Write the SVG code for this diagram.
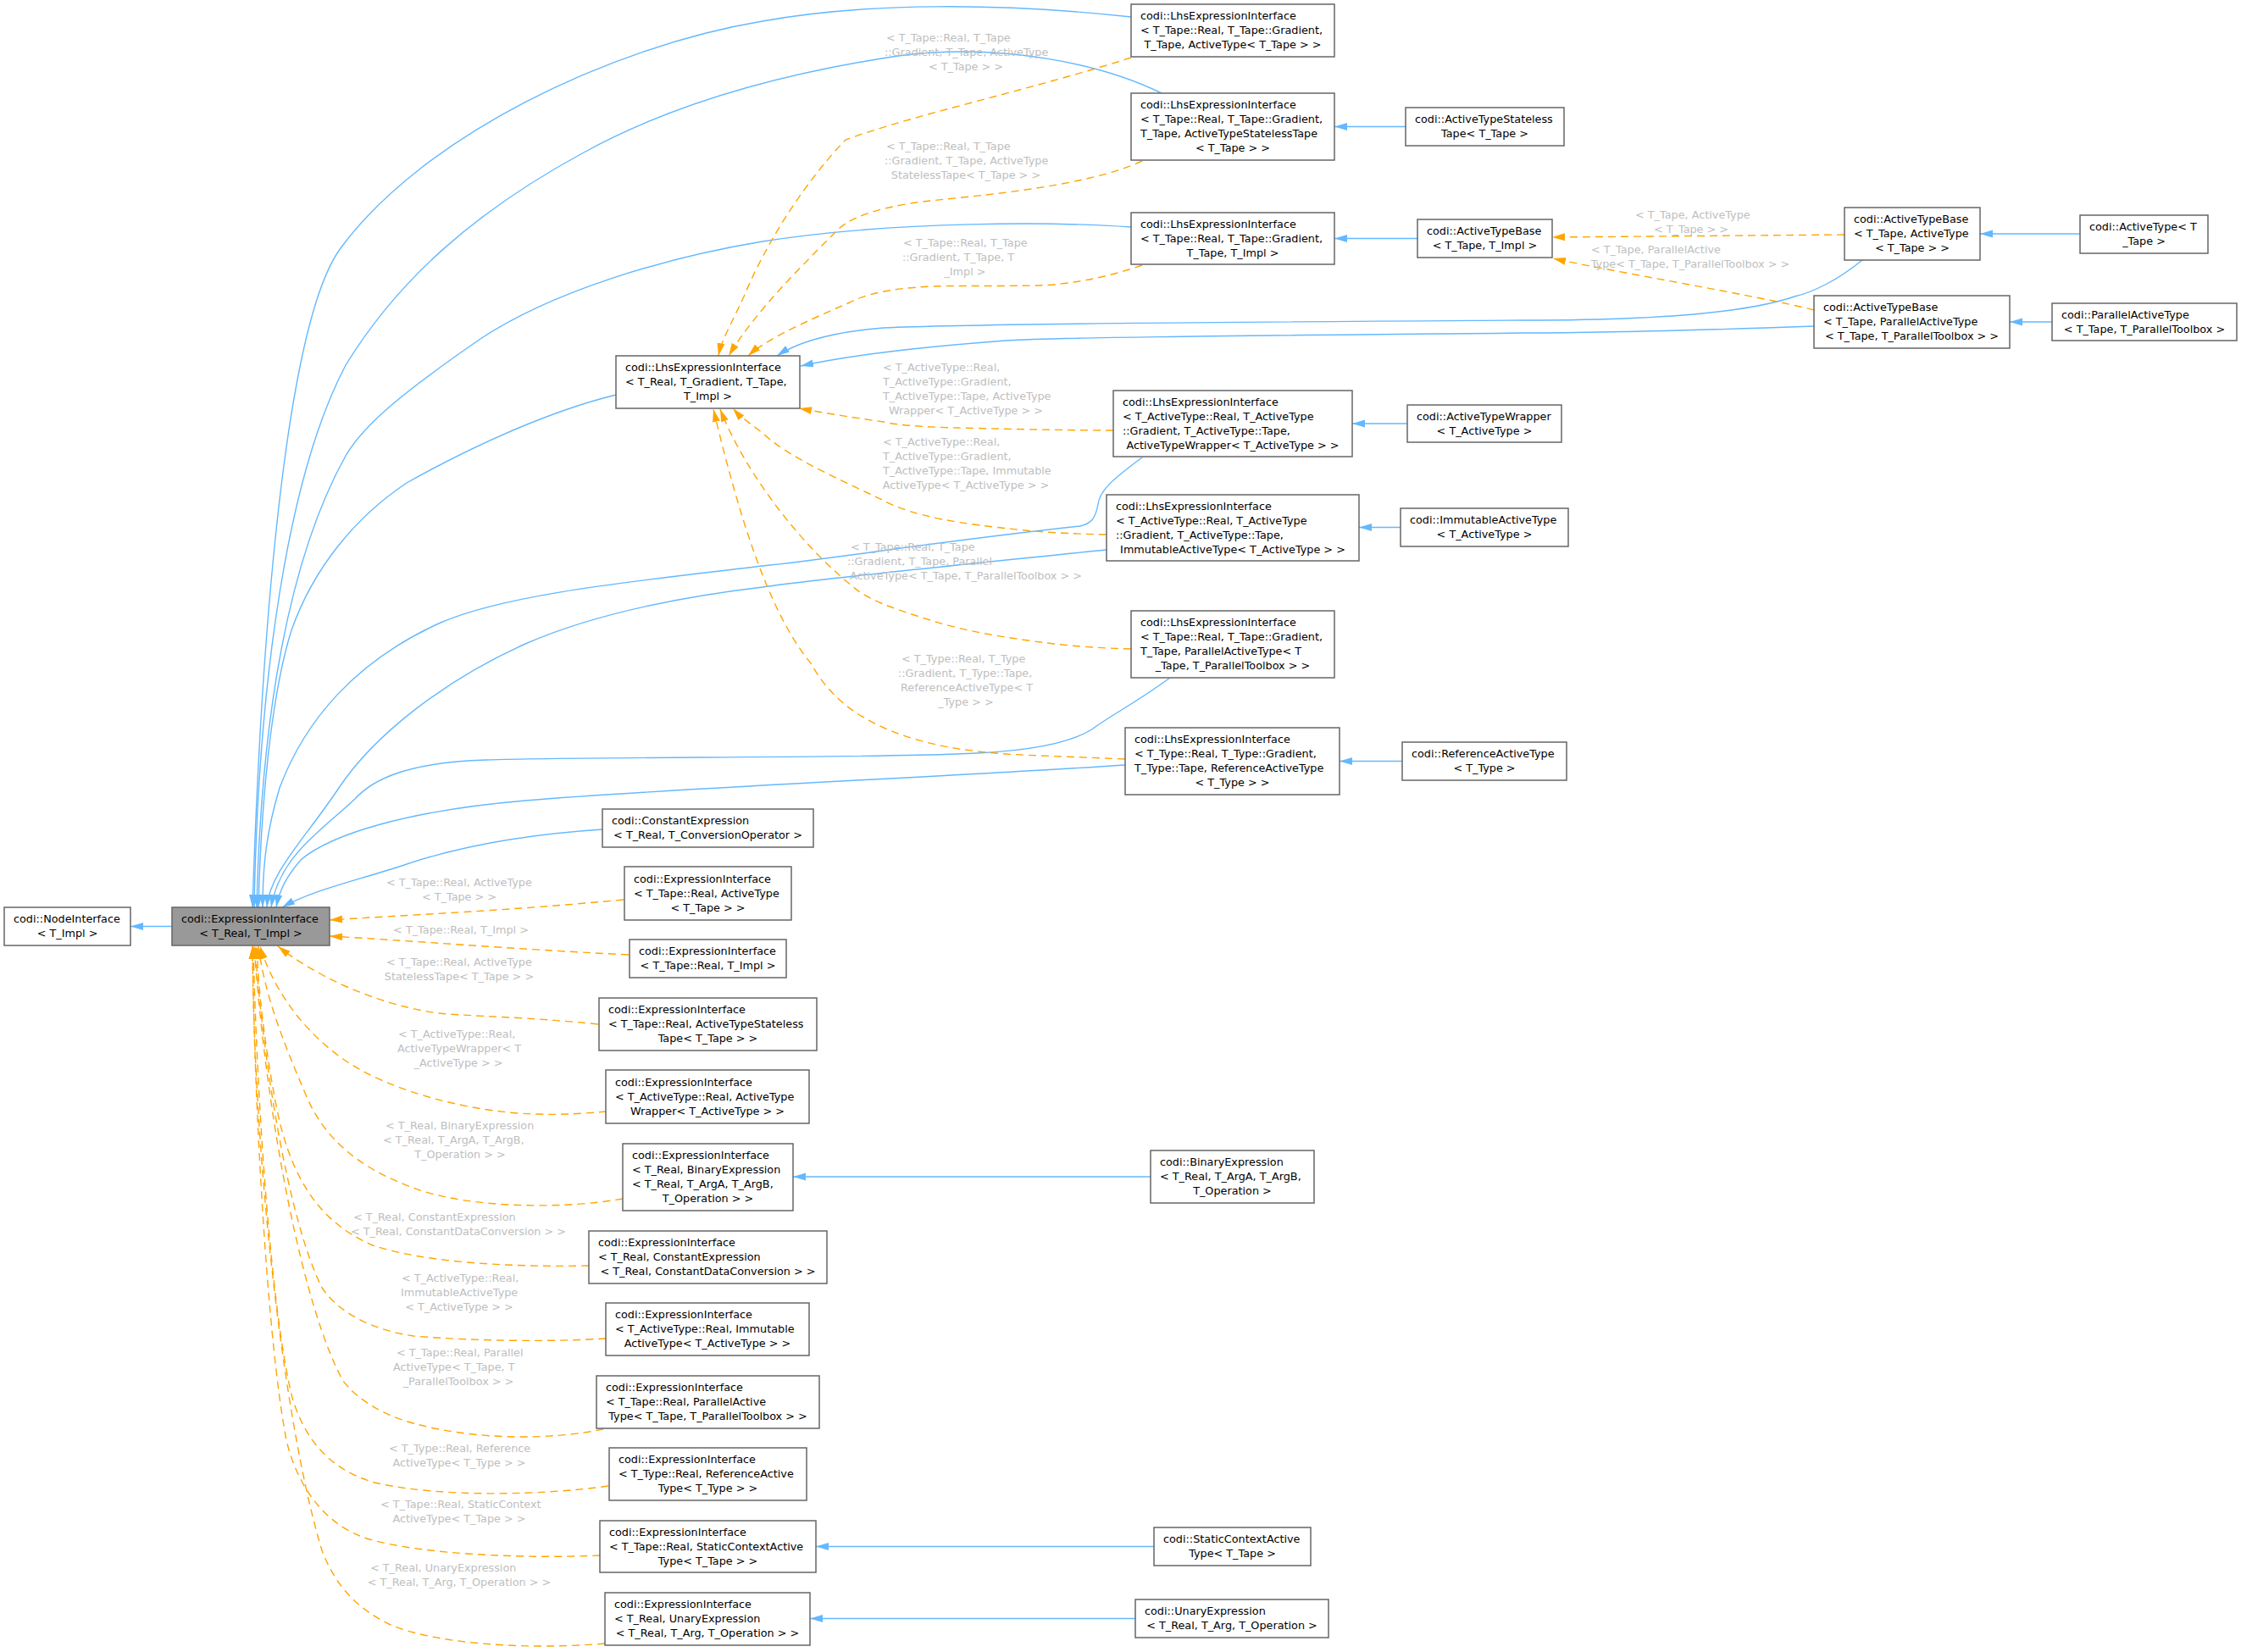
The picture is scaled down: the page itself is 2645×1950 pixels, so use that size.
<svg xmlns="http://www.w3.org/2000/svg" width="2645" height="1950" viewBox="0 0 2645 1950">
<defs>
<style>
.n rect{fill:#fff;stroke:#666;stroke-width:1.5}
.n.focus rect{fill:#999}
text{font-family:"DejaVu Sans",sans-serif;font-size:12.8px;fill:#000}
text.c{text-anchor:middle}
.lbl text{fill:#BEBEBE}
.inh{fill:none;stroke:#63B8FF;stroke-width:1.4;marker-end:url(#ab)}
.tpl{fill:none;stroke:#FFA500;stroke-width:1.4;stroke-dasharray:9,6;marker-end:url(#ao)}
</style>
<marker id="ab" viewBox="0 0 15 10" refX="15" refY="5" markerWidth="15" markerHeight="10" markerUnits="userSpaceOnUse" orient="auto"><path d="M0,0.5 L15,5 L0,9.5 z" fill="#63B8FF"/></marker>
<marker id="ao" viewBox="0 0 15 10" refX="15" refY="5" markerWidth="15" markerHeight="10" markerUnits="userSpaceOnUse" orient="auto"><path d="M0,0.5 L15,5 L0,9.5 z" fill="#FFA500"/></marker>
</defs>
<rect width="2645" height="1950" fill="#fff"/>
<g id="connectors">
<path class="inh" d="M203,1093.5 L154,1093.5"/>
<path class="inh" d="M1335,20 C1180,3 1020,3 900,25 C720,55 500,160 402,293 C342,374 310,700 298,1071"/>
<path class="inh" d="M1371,110 C1300,75 1180,50 1060,66 C900,90 780,130 689,180 C560,250 470,330 408,431 C340,560 305,800 300,1071"/>
<path class="inh" d="M1335,268 C1250,262 1060,260 900,285 C780,305 650,345 567,400 C480,460 430,500 408,538 C340,660 308,850 303,1071"/>
<path class="inh" d="M727,466 C650,485 560,525 480,570 C420,610 370,670 344,744 C320,820 308,950 305,1071"/>
<path class="inh" d="M1348,540 C1310,568 1298,580 1296,595 C1293,612 1288,618 1275,621 C1100,640 980,660 900,668 C760,685 600,700 520,735 C420,780 360,850 330,930 C315,980 310,1020 310,1071"/>
<path class="inh" d="M1306,649 C1100,670 950,685 900,693 C800,705 700,725 620,760 C520,805 440,870 400,930 C360,990 318,1030 315,1071"/>
<path class="inh" d="M1381,800 C1340,830 1310,845 1290,860 C1260,880 1200,888 1130,890 C1000,895 700,893 574,897 C480,900 440,920 419,943 C380,980 330,1010 320,1071"/>
<path class="inh" d="M1328,903 C1100,918 800,930 620,945 C480,957 390,985 355,1015 C338,1035 330,1050 326,1071"/>
<path class="inh" d="M711,979 C620,985 540,1000 480,1020 C420,1040 370,1050 333,1071"/>
<path class="inh" d="M2198,307 C2170,330 2140,345 2118,350 C2060,370 1950,378 1800,378 C1500,380 1150,382 1043,387 C980,392 940,405 917,420"/>
<path class="inh" d="M2141,385 C2000,390 1900,393 1800,393 C1500,396 1250,398 1187,402 C1080,410 1000,420 945,432"/>
<path class="inh" d="M1659,149.5 L1575,149.5"/>
<path class="inh" d="M1673,281.5 L1575,281.5"/>
<path class="inh" d="M2455,276 L2337,276"/>
<path class="inh" d="M2422,380 L2372,380"/>
<path class="inh" d="M1661,500 L1596,500"/>
<path class="inh" d="M1653,622.5 L1604,622.5"/>
<path class="inh" d="M1655,898.5 L1581,898.5"/>
<path class="inh" d="M1358,1389 L936,1389"/>
<path class="inh" d="M1362,1825.5 L963,1825.5"/>
<path class="inh" d="M1340,1910.5 L956,1910.5"/>
<path class="tpl" d="M1335,68 C1220,105 1080,135 998,165 C950,215 905,285 878,350 C862,385 852,400 848,420"/>
<path class="tpl" d="M1348,190 C1280,222 1140,232 1089,238 C1030,246 1000,258 985,275 C940,320 890,370 860,420"/>
<path class="tpl" d="M1348,313 C1300,330 1250,337 1221,337 C1170,338 1130,337 1101,338 C1050,340 1020,348 1003,357 C950,380 905,400 883,420"/>
<path class="tpl" d="M1314,508 C1250,508 1180,506 1130,505 C1090,504 1060,502 1043,498 C1000,492 965,486 943,482"/>
<path class="tpl" d="M1306,631 C1260,630 1230,628 1210,626 C1130,618 1080,610 1043,591 C990,565 930,540 900,511 C885,500 872,490 865,482"/>
<path class="tpl" d="M1335,766 C1300,765 1270,763 1244,760 C1180,752 1140,745 1101,733 C1060,720 1035,712 1015,699 C950,650 880,560 850,483"/>
<path class="tpl" d="M1328,896 C1260,893 1220,892 1187,890 C1120,885 1080,875 1043,859 C1000,840 975,815 957,783 C905,720 870,600 842,483"/>
<path class="tpl" d="M2177,277 L1832,280"/>
<path class="tpl" d="M2141,366 C2080,350 1900,320 1833,305"/>
<path class="tpl" d="M736,1062 C600,1075 480,1080 389,1086"/>
<path class="tpl" d="M742,1127 C600,1120 480,1110 389,1105"/>
<path class="tpl" d="M706,1209 C620,1200 560,1200 517,1196 C440,1185 370,1150 328,1117"/>
<path class="tpl" d="M716,1312 C680,1315 660,1316 631,1315 C560,1313 460,1290 402,1248 C350,1210 320,1160 307,1117"/>
<path class="tpl" d="M735,1415 C660,1428 560,1425 499,1406 C420,1380 380,1340 360,1290 C330,1220 312,1170 305,1117"/>
<path class="tpl" d="M695,1494 C600,1496 500,1490 440,1470 C370,1440 340,1380 325,1300 C312,1230 305,1170 303,1117"/>
<path class="tpl" d="M715,1580 C650,1584 560,1583 488,1577 C440,1570 400,1550 380,1520 C340,1440 310,1250 301,1117"/>
<path class="tpl" d="M712,1687 C650,1700 560,1700 488,1680 C450,1670 420,1650 405,1630 C360,1550 315,1330 300,1117"/>
<path class="tpl" d="M718,1754 C640,1765 520,1768 442,1750 C390,1735 360,1700 345,1650 C320,1550 303,1300 299,1117"/>
<path class="tpl" d="M708,1836 C620,1840 500,1835 436,1817 C380,1800 350,1750 338,1700 C315,1580 300,1300 298,1117"/>
<path class="tpl" d="M714,1940 C620,1948 510,1940 459,1917 C420,1898 395,1870 380,1830 C340,1700 300,1400 298,1117"/>
<g class="lbl">
<text x="1046" y="48.8">&lt; T_Tape::Real, T_Tape</text><text x="1044" y="65.8">::Gradient, T_Tape, ActiveType</text><text class="c" x="1140" y="82.8">&lt; T_Tape &gt; &gt;</text>
<text x="1046" y="176.8">&lt; T_Tape::Real, T_Tape</text><text x="1044" y="193.8">::Gradient, T_Tape, ActiveType</text><text class="c" x="1140" y="210.8">StatelessTape&lt; T_Tape &gt; &gt;</text>
<text x="1066" y="291.2">&lt; T_Tape::Real, T_Tape</text><text x="1065" y="308.2">::Gradient, T_Tape, T</text><text class="c" x="1139" y="325.2">_Impl &gt;</text>
<text x="1042" y="438.2">&lt; T_ActiveType::Real,</text><text x="1042" y="455.2">T_ActiveType::Gradient,</text><text x="1042" y="472.2">T_ActiveType::Tape, ActiveType</text><text class="c" x="1140" y="489.2">Wrapper&lt; T_ActiveType &gt; &gt;</text>
<text x="1042" y="526.2">&lt; T_ActiveType::Real,</text><text x="1042" y="543.2">T_ActiveType::Gradient,</text><text x="1042" y="560.2">T_ActiveType::Tape, Immutable</text><text class="c" x="1140" y="577.2">ActiveType&lt; T_ActiveType &gt; &gt;</text>
<text x="1004" y="649.8">&lt; T_Tape::Real, T_Tape</text><text x="1000" y="666.8">::Gradient, T_Tape, Parallel</text><text class="c" x="1140" y="683.8">ActiveType&lt; T_Tape, T_ParallelToolbox &gt; &gt;</text>
<text x="1064" y="782.2">&lt; T_Type::Real, T_Type</text><text x="1060" y="799.2">::Gradient, T_Type::Tape,</text><text x="1063" y="816.2">ReferenceActiveType&lt; T</text><text class="c" x="1140" y="833.2">_Type &gt; &gt;</text>
<text x="1930" y="257.8">&lt; T_Tape, ActiveType</text><text class="c" x="1996" y="274.8">&lt; T_Tape &gt; &gt;</text>
<text x="1878" y="299.2">&lt; T_Tape, ParallelActive</text><text class="c" x="1995" y="316.2">Type&lt; T_Tape, T_ParallelToolbox &gt; &gt;</text>
<text x="456" y="1045.7">&lt; T_Tape::Real, ActiveType</text><text class="c" x="542" y="1062.7">&lt; T_Tape &gt; &gt;</text>
<text class="c" x="544" y="1101.5">&lt; T_Tape::Real, T_Impl &gt;</text>
<text x="456" y="1140.4">&lt; T_Tape::Real, ActiveType</text><text class="c" x="542" y="1157.4">StatelessTape&lt; T_Tape &gt; &gt;</text>
<text x="470" y="1224.5">&lt; T_ActiveType::Real,</text><text x="469" y="1241.5">ActiveTypeWrapper&lt; T</text><text class="c" x="541" y="1258.5">_ActiveType &gt; &gt;</text>
<text x="455" y="1332.6">&lt; T_Real, BinaryExpression</text><text x="452" y="1349.6">&lt; T_Real, T_ArgA, T_ArgB,</text><text class="c" x="543" y="1366.6">T_Operation &gt; &gt;</text>
<text x="417" y="1441.3">&lt; T_Real, ConstantExpression</text><text class="c" x="541" y="1458.3">&lt; T_Real, ConstantDataConversion &gt; &gt;</text>
<text x="474" y="1512.8">&lt; T_ActiveType::Real,</text><text x="473" y="1529.8">ImmutableActiveType</text><text class="c" x="542" y="1546.8">&lt; T_ActiveType &gt; &gt;</text>
<text x="468" y="1600.5">&lt; T_Tape::Real, Parallel</text><text x="464" y="1617.5">ActiveType&lt; T_Tape, T</text><text class="c" x="541" y="1634.5">_ParallelToolbox &gt; &gt;</text>
<text x="459" y="1713.5">&lt; T_Type::Real, Reference</text><text class="c" x="542" y="1730.5">ActiveType&lt; T_Type &gt; &gt;</text>
<text x="449" y="1780.2">&lt; T_Tape::Real, StaticContext</text><text class="c" x="542" y="1797.2">ActiveType&lt; T_Tape &gt; &gt;</text>
<text x="437" y="1854.8">&lt; T_Real, UnaryExpression</text><text class="c" x="542" y="1871.8">&lt; T_Real, T_Arg, T_Operation &gt; &gt;</text>
</g>
</g>
<g id="node-NodeInterface" class="n"><rect x="5" y="1071" width="149" height="45"/><text x="16" y="1089">codi::NodeInterface</text><text class="c" x="79.5" y="1106">&lt; T_Impl &gt;</text></g>
<g id="node-ExpressionInterface" class="n focus"><rect x="203" y="1071" width="186" height="45"/><text x="214" y="1089">codi::ExpressionInterface</text><text class="c" x="296" y="1106">&lt; T_Real, T_Impl &gt;</text></g>
<g id="node-LhsExpressionInterface" class="n"><rect x="727" y="420" width="217" height="62"/><text x="738" y="438">codi::LhsExpressionInterface</text><text x="738" y="455">&lt; T_Real, T_Gradient, T_Tape,</text><text class="c" x="835.5" y="472">T_Impl &gt;</text></g>
<g id="node-Lhs-ActiveType" class="n"><rect x="1335" y="5" width="240" height="62"/><text x="1346" y="23">codi::LhsExpressionInterface</text><text x="1346" y="40">&lt; T_Tape::Real, T_Tape::Gradient,</text><text class="c" x="1455" y="57">T_Tape, ActiveType&lt; T_Tape &gt; &gt;</text></g>
<g id="node-Lhs-ActiveTypeStatelessTape" class="n"><rect x="1335" y="110" width="240" height="79"/><text x="1346" y="128">codi::LhsExpressionInterface</text><text x="1346" y="145">&lt; T_Tape::Real, T_Tape::Gradient,</text><text x="1346" y="162">T_Tape, ActiveTypeStatelessTape</text><text class="c" x="1455" y="179">&lt; T_Tape &gt; &gt;</text></g>
<g id="node-Lhs-TImpl" class="n"><rect x="1335" y="251" width="240" height="61"/><text x="1346" y="268.5">codi::LhsExpressionInterface</text><text x="1346" y="285.5">&lt; T_Tape::Real, T_Tape::Gradient,</text><text class="c" x="1455" y="302.5">T_Tape, T_Impl &gt;</text></g>
<g id="node-Lhs-ActiveTypeWrapper" class="n"><rect x="1314" y="461" width="282" height="78"/><text x="1325" y="478.5">codi::LhsExpressionInterface</text><text x="1325" y="495.5">&lt; T_ActiveType::Real, T_ActiveType</text><text x="1325" y="512.5">::Gradient, T_ActiveType::Tape,</text><text class="c" x="1455" y="529.5">ActiveTypeWrapper&lt; T_ActiveType &gt; &gt;</text></g>
<g id="node-Lhs-ImmutableActiveType" class="n"><rect x="1306" y="584" width="298" height="78"/><text x="1317" y="601.5">codi::LhsExpressionInterface</text><text x="1317" y="618.5">&lt; T_ActiveType::Real, T_ActiveType</text><text x="1317" y="635.5">::Gradient, T_ActiveType::Tape,</text><text class="c" x="1455" y="652.5">ImmutableActiveType&lt; T_ActiveType &gt; &gt;</text></g>
<g id="node-Lhs-ParallelActiveType" class="n"><rect x="1335" y="721" width="240" height="79"/><text x="1346" y="739">codi::LhsExpressionInterface</text><text x="1346" y="756">&lt; T_Tape::Real, T_Tape::Gradient,</text><text x="1346" y="773">T_Tape, ParallelActiveType&lt; T</text><text class="c" x="1455" y="790">_Tape, T_ParallelToolbox &gt; &gt;</text></g>
<g id="node-Lhs-ReferenceActiveType" class="n"><rect x="1328" y="859" width="253" height="79"/><text x="1339" y="877">codi::LhsExpressionInterface</text><text x="1339" y="894">&lt; T_Type::Real, T_Type::Gradient,</text><text x="1339" y="911">T_Type::Tape, ReferenceActiveType</text><text class="c" x="1454.5" y="928">&lt; T_Type &gt; &gt;</text></g>
<g id="node-ActiveTypeStatelessTape" class="n"><rect x="1659" y="127" width="187" height="45"/><text x="1670" y="145">codi::ActiveTypeStateless</text><text class="c" x="1752.5" y="162">Tape&lt; T_Tape &gt;</text></g>
<g id="node-ActiveTypeBase-TImpl" class="n"><rect x="1673" y="259" width="159" height="45"/><text x="1684" y="277">codi::ActiveTypeBase</text><text class="c" x="1752.5" y="294">&lt; T_Tape, T_Impl &gt;</text></g>
<g id="node-ActiveTypeBase-ActiveType" class="n"><rect x="2177" y="245" width="160" height="62"/><text x="2188" y="263">codi::ActiveTypeBase</text><text x="2188" y="280">&lt; T_Tape, ActiveType</text><text class="c" x="2257" y="297">&lt; T_Tape &gt; &gt;</text></g>
<g id="node-ActiveType" class="n"><rect x="2455" y="254" width="151" height="45"/><text x="2466" y="272">codi::ActiveType&lt; T</text><text class="c" x="2530.5" y="289">_Tape &gt;</text></g>
<g id="node-ActiveTypeBase-Parallel" class="n"><rect x="2141" y="349" width="231" height="62"/><text x="2152" y="367">codi::ActiveTypeBase</text><text x="2152" y="384">&lt; T_Tape, ParallelActiveType</text><text class="c" x="2256.5" y="401">&lt; T_Tape, T_ParallelToolbox &gt; &gt;</text></g>
<g id="node-ParallelActiveType" class="n"><rect x="2422" y="358" width="218" height="44"/><text x="2433" y="375.5">codi::ParallelActiveType</text><text class="c" x="2531" y="392.5">&lt; T_Tape, T_ParallelToolbox &gt;</text></g>
<g id="node-ActiveTypeWrapper" class="n"><rect x="1661" y="478" width="182" height="44"/><text x="1672" y="495.5">codi::ActiveTypeWrapper</text><text class="c" x="1752" y="512.5">&lt; T_ActiveType &gt;</text></g>
<g id="node-ImmutableActiveType" class="n"><rect x="1653" y="600" width="198" height="45"/><text x="1664" y="618">codi::ImmutableActiveType</text><text class="c" x="1752" y="635">&lt; T_ActiveType &gt;</text></g>
<g id="node-ReferenceActiveType" class="n"><rect x="1655" y="876" width="194" height="45"/><text x="1666" y="894">codi::ReferenceActiveType</text><text class="c" x="1752" y="911">&lt; T_Type &gt;</text></g>
<g id="node-ConstantExpression" class="n"><rect x="711" y="955" width="249" height="45"/><text x="722" y="973">codi::ConstantExpression</text><text class="c" x="835.5" y="990">&lt; T_Real, T_ConversionOperator &gt;</text></g>
<g id="node-EI-ActiveType" class="n"><rect x="737" y="1023" width="197" height="63"/><text x="748" y="1041.5">codi::ExpressionInterface</text><text x="748" y="1058.5">&lt; T_Tape::Real, ActiveType</text><text class="c" x="835.5" y="1075.5">&lt; T_Tape &gt; &gt;</text></g>
<g id="node-EI-TImpl" class="n"><rect x="743" y="1109" width="185" height="45"/><text x="754" y="1127">codi::ExpressionInterface</text><text class="c" x="835.5" y="1144">&lt; T_Tape::Real, T_Impl &gt;</text></g>
<g id="node-EI-Stateless" class="n"><rect x="707" y="1178" width="257" height="62"/><text x="718" y="1196">codi::ExpressionInterface</text><text x="718" y="1213">&lt; T_Tape::Real, ActiveTypeStateless</text><text class="c" x="835.5" y="1230">Tape&lt; T_Tape &gt; &gt;</text></g>
<g id="node-EI-Wrapper" class="n"><rect x="715" y="1263" width="240" height="63"/><text x="726" y="1281.5">codi::ExpressionInterface</text><text x="726" y="1298.5">&lt; T_ActiveType::Real, ActiveType</text><text class="c" x="835" y="1315.5">Wrapper&lt; T_ActiveType &gt; &gt;</text></g>
<g id="node-EI-Binary" class="n"><rect x="735" y="1350" width="201" height="79"/><text x="746" y="1368">codi::ExpressionInterface</text><text x="746" y="1385">&lt; T_Real, BinaryExpression</text><text x="746" y="1402">&lt; T_Real, T_ArgA, T_ArgB,</text><text class="c" x="835.5" y="1419">T_Operation &gt; &gt;</text></g>
<g id="node-BinaryExpression" class="n"><rect x="1358" y="1358" width="193" height="62"/><text x="1369" y="1376">codi::BinaryExpression</text><text x="1369" y="1393">&lt; T_Real, T_ArgA, T_ArgB,</text><text class="c" x="1454.5" y="1410">T_Operation &gt;</text></g>
<g id="node-EI-Constant" class="n"><rect x="695" y="1453" width="281" height="62"/><text x="706" y="1471">codi::ExpressionInterface</text><text x="706" y="1488">&lt; T_Real, ConstantExpression</text><text class="c" x="835.5" y="1505">&lt; T_Real, ConstantDataConversion &gt; &gt;</text></g>
<g id="node-EI-Immutable" class="n"><rect x="715" y="1538" width="240" height="62"/><text x="726" y="1556">codi::ExpressionInterface</text><text x="726" y="1573">&lt; T_ActiveType::Real, Immutable</text><text class="c" x="835" y="1590">ActiveType&lt; T_ActiveType &gt; &gt;</text></g>
<g id="node-EI-Parallel" class="n"><rect x="704" y="1624" width="263" height="62"/><text x="715" y="1642">codi::ExpressionInterface</text><text x="715" y="1659">&lt; T_Tape::Real, ParallelActive</text><text class="c" x="835.5" y="1676">Type&lt; T_Tape, T_ParallelToolbox &gt; &gt;</text></g>
<g id="node-EI-Reference" class="n"><rect x="719" y="1709" width="233" height="62"/><text x="730" y="1727">codi::ExpressionInterface</text><text x="730" y="1744">&lt; T_Type::Real, ReferenceActive</text><text class="c" x="835.5" y="1761">Type&lt; T_Type &gt; &gt;</text></g>
<g id="node-EI-StaticContext" class="n"><rect x="708" y="1795" width="255" height="61"/><text x="719" y="1812.5">codi::ExpressionInterface</text><text x="719" y="1829.5">&lt; T_Tape::Real, StaticContextActive</text><text class="c" x="835.5" y="1846.5">Type&lt; T_Tape &gt; &gt;</text></g>
<g id="node-StaticContextActiveType" class="n"><rect x="1362" y="1803" width="185" height="45"/><text x="1373" y="1821">codi::StaticContextActive</text><text class="c" x="1454.5" y="1838">Type&lt; T_Tape &gt;</text></g>
<g id="node-EI-Unary" class="n"><rect x="714" y="1880" width="242" height="62"/><text x="725" y="1898">codi::ExpressionInterface</text><text x="725" y="1915">&lt; T_Real, UnaryExpression</text><text class="c" x="835" y="1932">&lt; T_Real, T_Arg, T_Operation &gt; &gt;</text></g>
<g id="node-UnaryExpression" class="n"><rect x="1340" y="1888" width="228" height="45"/><text x="1351" y="1906">codi::UnaryExpression</text><text class="c" x="1454" y="1923">&lt; T_Real, T_Arg, T_Operation &gt;</text></g>
</svg>
